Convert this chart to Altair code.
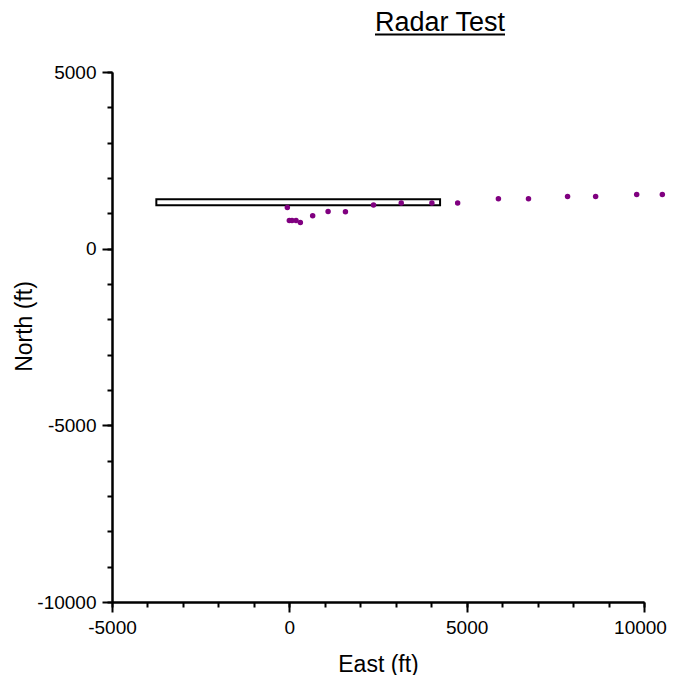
import altair as alt
import pandas as pd

# Radar track points (ft)
east = [-56, 0, 76, 189, 311, 658, 1093, 1582, 2373, 3155, 4020, 4746,
        5895, 6743, 7845, 8636, 9794, 10517]
north = [1167, 800, 800, 800, 743, 932, 1054, 1045, 1234, 1291, 1291, 1291,
         1412, 1412, 1477, 1477, 1534, 1534]

# Box outline (ft)
box_east = [-3750]
box_east2 = [4250]
box_north = [1230]
box_north2 = [1400]

# Tick values
x_major = [-5000, 0, 5000, 10000]
x_minor = [-5000, -4000, -3000, -2000, -1000, 0, 1000, 2000, 3000, 4000,
           5000, 6000, 7000, 8000, 9000, 10000]
y_major = [-10000, -5000, 0, 5000]
y_minor = [-10000, -9000, -8000, -7000, -6000, -5000, -4000, -3000, -2000,
           -1000, 0, 1000, 2000, 3000, 4000, 5000]

chart_title = ["Radar Test"]

FONT = "Liberation Sans"

pts = pd.DataFrame({"east": east, "north": north})
box = pd.DataFrame({"e1": box_east, "e2": box_east2, "n1": box_north, "n2": box_north2})

xscale = alt.Scale(domain=[-5000, 10000], nice=False, zero=False)
yscale = alt.Scale(domain=[-10000, 5000], nice=False, zero=False)

common = dict(grid=False, domainColor="black", domainWidth=2, tickColor="black",
              tickWidth=2)

x_major_axis = alt.Axis(values=x_major, labelExpr="datum.value + ''", orient="bottom",
                        tickSize=10, labelFont=FONT, labelFontSize=19, labelColor="black",
                        labelPadding=6, labelFlush=False, labelOverlap=False,
                        labelOffset={"condition": {"test": "datum.value === 10000", "value": -4},
                                     "value": 0},
                        title="East (ft)", titleFont=FONT, titleFontSize=23,
                        titleFontWeight="normal", titleColor="black",
                        titleY=69, titleBaseline="alphabetic", **common)
x_minor_axis = alt.Axis(values=x_minor, orient="bottom", tickSize=5, labels=False,
                        title=None, **common)
y_major_axis = alt.Axis(values=y_major, labelExpr="datum.value + ''", orient="left",
                        tickSize=10, labelFont=FONT, labelFontSize=19, labelColor="black",
                        labelPadding=6, labelFlush=False, labelOverlap=False,
                        title="North (ft)", titleFont=FONT, titleFontSize=23,
                        titleFontWeight="normal", titleColor="black",
                        titleAngle=270, titleX=-88, titleY=254,
                        titleBaseline="middle", titleAlign="center", **common)
y_minor_axis = alt.Axis(values=y_minor, orient="left", tickSize=5, labels=False,
                        title=None, **common)

rect_layer = alt.Chart(box).mark_rect(fill="white", stroke="black", strokeWidth=2).encode(
    x=alt.X("e1:Q", scale=xscale, axis=x_major_axis),
    x2="e2:Q",
    y=alt.Y("n1:Q", scale=yscale, axis=y_major_axis),
    y2="n2:Q",
)

point_layer = alt.Chart(pts).mark_point(filled=True, color="#800080", size=30,
                                        opacity=1).encode(
    x=alt.X("east:Q", scale=xscale, axis=x_minor_axis),
    y=alt.Y("north:Q", scale=yscale, axis=y_minor_axis),
)

title_df = pd.DataFrame({"t": chart_title})
title_text = alt.Chart(title_df).mark_text(font=FONT, fontSize=27, color="black",
                                           align="center", baseline="alphabetic").encode(
    text="t:N", x=alt.value(328), y=alt.value(-41)
)
underline = alt.Chart(title_df).mark_rule(color="black", strokeWidth=2).encode(
    x=alt.value(263), x2=alt.value(393), y=alt.value(-37.5)
)

chart = alt.layer(rect_layer, point_layer, title_text, underline).resolve_axis(
    x="independent", y="independent"
).properties(
    width=532, height=530,
    autosize="none",
    padding={"left": 104, "top": 64, "right": 23, "bottom": 73},
).configure_view(stroke=None)

chart.save("out.html", embed_options={"renderer": "svg", "actions": False})
